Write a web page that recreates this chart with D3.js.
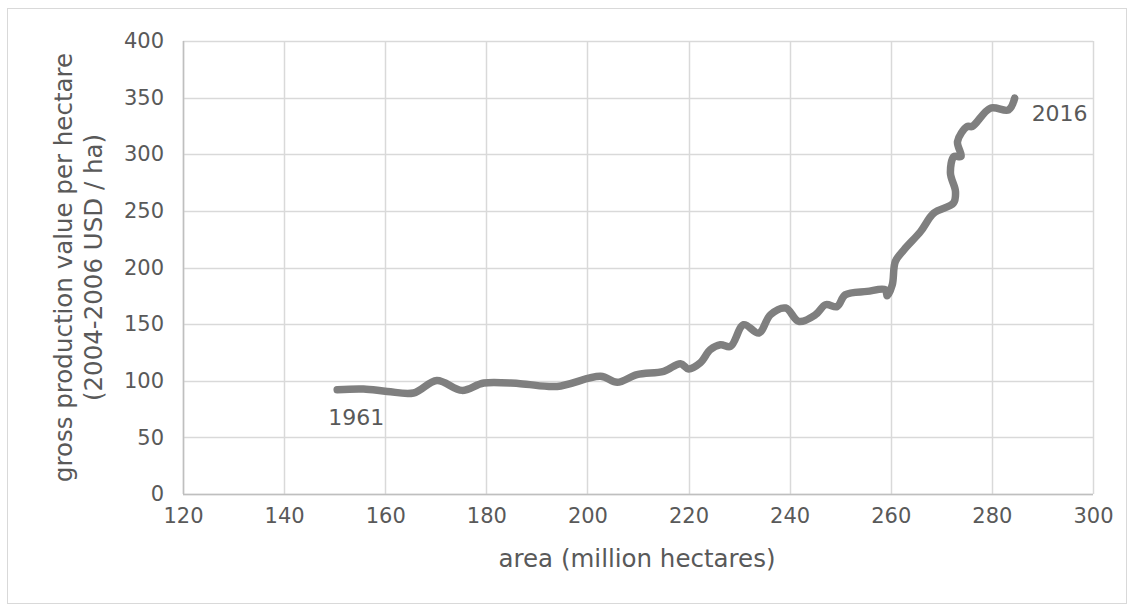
<!DOCTYPE html>
<html>
<head>
<meta charset="utf-8">
<script src="https://cdn.jsdelivr.net/npm/d3@7"></script>
<style>
  body { margin: 0; background: #fff; }
  svg text { font-family: "DejaVu Sans", sans-serif; fill: #595959; }
</style>
</head>
<body>
<svg id="chart" width="1134" height="612"></svg>
<script>
// area (million hectares)
const areaValues = [150.5,155.7,160.4,165.6,170.2,175.2,179.5,186.7,194,202.6,205.9,209.8,215.1,218.4,220,222.3,224.3,226.3,228.3,230.9,233.9,236.2,239.2,241.8,245.1,247.1,249.4,251,255.3,258.9,259.3,260.3,260.9,262.6,265.9,268.5,272.4,272.8,271.8,272.5,273.9,273.2,275.1,276.1,279.7,283.3,284.5];
// gross production value per hectare
const gpvValues = [92.1,92.7,90.6,89.2,100.3,91.5,98,97.4,95,103.9,98.6,105.4,108.3,115.1,110.4,115.7,127.4,131.8,130.3,149.5,142.1,158.3,164.2,152.4,158.3,167.1,165.6,175.9,178.9,180.4,175.1,184.8,205.3,215.6,231.8,248,256.9,267.1,283.3,298,298,311.2,324.5,324.5,340.7,339.2,349.5];
const xTicks = [120,140,160,180,200,220,240,260,280,300];
const yTicks = [0,50,100,150,200,250,300,350,400];
const yearLabels = ["1961", "2016"];
const xTitle = "area (million hectares)";
const yTitleLines = ["gross production value per hectare", "(2004-2006 USD / ha)"];

const svg = d3.select("#chart");
const W = 1134, H = 612;
const m = {left: 183, right: 1093, top: 41, bottom: 494};
const FS = 21, TFS = 24.5;

svg.append("rect").attr("x", 7.5).attr("y", 8.5).attr("width", W - 15).attr("height", H - 17)
  .attr("fill", "#fff").attr("stroke", "#d9d9d9").attr("stroke-width", 1);

const x = d3.scaleLinear().domain([120, 300]).range([m.left, m.right]);
const y = d3.scaleLinear().domain([0, 400]).range([m.bottom, m.top]);

// gridlines
const g = svg.append("g");
g.selectAll(".vg").data(xTicks).join("line")
  .attr("x1", d => Math.round(x(d)) + 0.5).attr("x2", d => Math.round(x(d)) + 0.5)
  .attr("y1", m.top).attr("y2", m.bottom)
  .attr("stroke", "#d9d9d9").attr("stroke-width", 1.5);
g.selectAll(".hg").data(yTicks).join("line")
  .attr("y1", d => Math.round(y(d)) + 0.5).attr("y2", d => Math.round(y(d)) + 0.5)
  .attr("x1", m.left).attr("x2", m.right)
  .attr("stroke", "#d9d9d9").attr("stroke-width", 1.5);
// axis lines
svg.append("line").attr("x1", m.left + 0.5).attr("x2", m.left + 0.5).attr("y1", m.top).attr("y2", m.bottom)
  .attr("stroke", "#bfbfbf").attr("stroke-width", 1.5);
svg.append("line").attr("x1", m.left).attr("x2", m.right).attr("y1", m.bottom + 0.5).attr("y2", m.bottom + 0.5)
  .attr("stroke", "#bfbfbf").attr("stroke-width", 1.5);

// axes via d3 axis (tick labels only)
const xAxis = svg.append("g").attr("transform", `translate(0,${m.bottom})`)
  .call(d3.axisBottom(x).tickValues(xTicks).tickSize(0).tickPadding(14).tickFormat(d3.format("d")));
const yAxis = svg.append("g").attr("transform", `translate(${m.left},0)`)
  .call(d3.axisLeft(y).tickValues(yTicks).tickSize(0).tickPadding(19).tickFormat(d3.format("d")));
[xAxis, yAxis].forEach(a => {
  a.select(".domain").remove();
  a.selectAll("text").attr("font-size", FS).attr("fill", "#595959")
    .style("font-family", '"DejaVu Sans", sans-serif');
});

// titles
svg.append("text").attr("x", 637).attr("y", 567)
  .attr("text-anchor", "middle").attr("font-size", TFS).text(xTitle);
const yt = svg.append("text").attr("transform", `translate(72,${(m.top + m.bottom) / 2}) rotate(-90)`)
  .attr("text-anchor", "middle").attr("font-size", TFS);
yTitleLines.forEach((t, i) => yt.append("tspan").attr("x", 0).attr("dy", i === 0 ? 0 : 30).text(t));

// line
const pts = areaValues.map((a, i) => [a, gpvValues[i]]);
const line = d3.line().x(d => x(d[0])).y(d => y(d[1])).curve(d3.curveCatmullRom.alpha(0.5));
svg.append("path").attr("d", line(pts)).attr("fill", "none")
  .attr("stroke", "#7f7f7f").attr("stroke-width", 7.5)
  .attr("stroke-linecap", "round").attr("stroke-linejoin", "round");

// year labels
const first = pts[0], last = pts[pts.length - 1];
svg.append("text").attr("x", x(first[0]) + 19).attr("y", y(first[1]) + 35)
  .attr("text-anchor", "middle").attr("font-size", 22).text(yearLabels[0]);
svg.append("text").attr("x", x(last[0]) + 17).attr("y", y(last[1]) + 23)
  .attr("text-anchor", "start").attr("font-size", 22).text(yearLabels[1]);
</script>
</body>
</html>
